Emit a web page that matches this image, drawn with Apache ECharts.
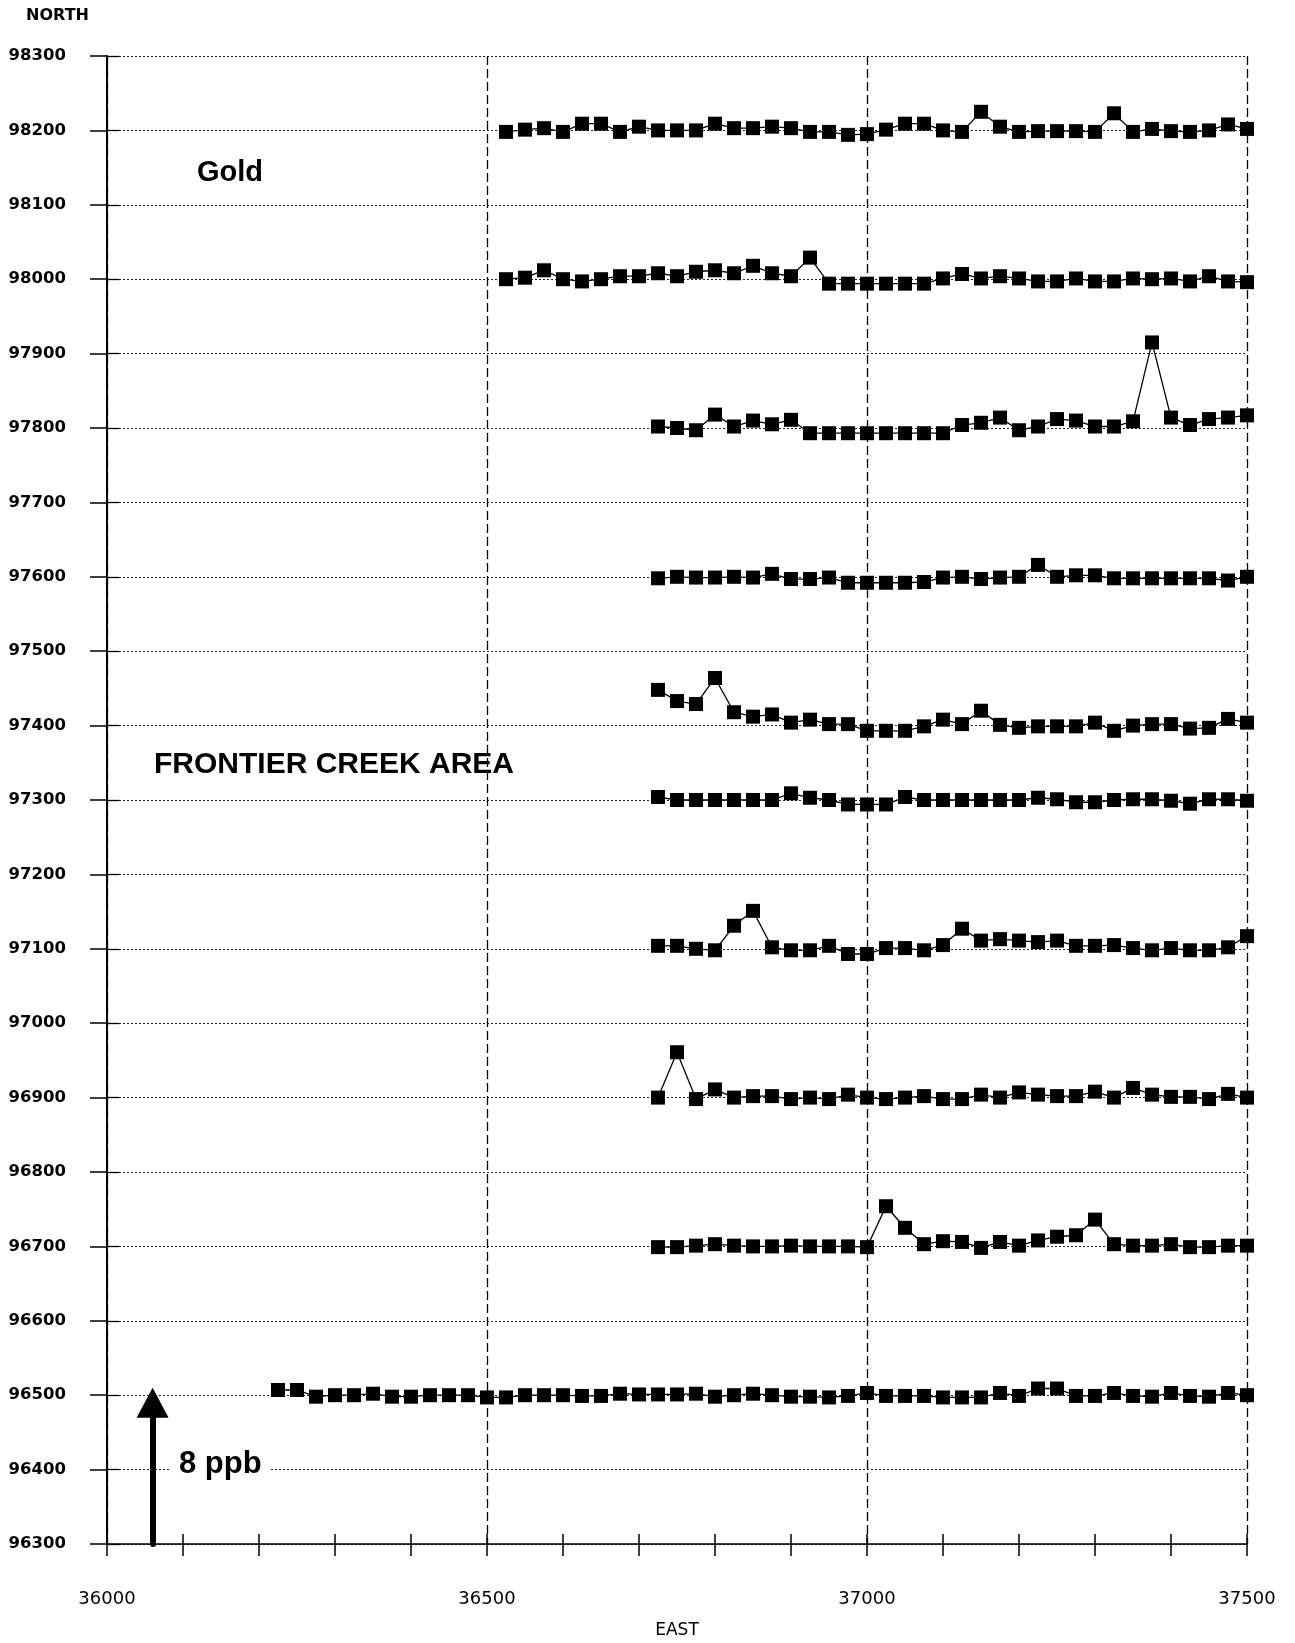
<!DOCTYPE html>
<html>
<head>
<meta charset="utf-8">
<script src="https://cdn.jsdelivr.net/npm/echarts@6/dist/echarts.min.js"></script>
<style>
html,body{margin:0;padding:0;background:#fff;}
#chart{width:1295px;height:1643px;}
</style>
</head>
<body>
<div id="chart"></div>
<script>
// Sample stations (EAST), 25 m spacing
const stations = [36225, 36250, 36275, 36300, 36325, 36350, 36375, 36400, 36425, 36450, 36475, 36500,
  36525, 36550, 36575, 36600, 36625, 36650, 36675, 36700, 36725, 36750, 36775, 36800,
  36825, 36850, 36875, 36900, 36925, 36950, 36975, 37000, 37025, 37050, 37075, 37100,
  37125, 37150, 37175, 37200, 37225, 37250, 37275, 37300, 37325, 37350, 37375, 37400,
  37425, 37450, 37475, 37500];

// Profile lines (NORTH) and the plotted gold offsets (in NORTH units, 8 ppb = 200)
const profileNorths = [98200, 98000, 97800, 97600, 97400, 97300, 97100, 96900, 96700, 96500];

const au98200 = [-2, 1, 3, -2, 9, 9, -2, 5, 0, 0, 0, 9, 3, 3, 5, 3, -2, -2, -6, -5,
  1, 9, 9, 0, -2, 25, 5, -2, -1, -1, -1, -2, 23, -2, 2, -1, -2, 0, 8, 2];
const au98000 = [0, 2, 12, 0, -3, 0, 4, 4, 8, 4, 10, 12, 8, 18, 8, 4, 29, -6, -6, -6,
  -6, -6, -6, 1, 7, 1, 4, 1, -3, -3, 1, -3, -3, 1, 0, 1, -3, 4, -3, -4];
const au97800 = [2, 0, -3, 18, 2, 10, 5, 11, -7, -7, -7, -7, -7, -7, -7, -7,
  4, 7, 14, -3, 2, 12, 10, 2, 2, 9, 115, 14, 4, 12, 14, 17];
const au97600 = [-2, 0, -1, -1, 0, -1, 4, -3, -3, -1, -8, -8, -8, -8, -7, -1,
  0, -3, -1, 0, 16, 0, 2, 2, -2, -2, -2, -2, -2, -2, -5, 0];
const au97400 = [48, 33, 29, 64, 18, 12, 15, 4, 8, 2, 2, -7, -7, -7, -1, 8,
  2, 20, 1, -3, -1, -1, -1, 4, -7, 0, 2, 2, -4, -3, 9, 4];
const au97300 = [4, 0, 0, 0, 0, 0, 0, 9, 3, 0, -6, -6, -6, 4, 0, 0,
  0, 0, 0, 0, 3, 1, -3, -3, 0, 1, 1, -1, -5, 1, 1, -1];
const au97100 = [4, 4, 0, -2, 31, 51, 2, -2, -2, 4, -7, -7, 1, 1, -2, 5,
  27, 11, 13, 11, 9, 11, 4, 4, 5, 1, -2, 1, -2, -2, 2, 17];
const au96900 = [0, 61, -2, 11, 0, 2, 2, -2, 0, -2, 4, 0, -2, 0, 2, -2,
  -2, 4, 0, 7, 4, 2, 2, 8, 0, 13, 4, 1, 1, -2, 5, 0];
const au96700 = [-1, -1, 1, 3, 1, 0, 0, 1, 0, 0, 0, -1, 54, 25, 3, 7,
  6, -2, 6, 1, 8, 13, 15, 36, 3, 1, 1, 3, -1, -1, 1, 1];
const au96500 = [7, 7, -2, 0, 0, 2, -2, -2, 0, 0, 0, -3, -3, 0, 0, 0, -1, -1, 2, 1,
  1, 1, 2, -2, 0, 2, 0, -2, -2, -3, -1, 3, -1, -1, -1, -3, -3, -3, 3, -1,
  9, 9, -1, -1, 3, -1, -2, 3, -1, -2, 3, 0];

const profileValues = [au98200, au98000, au97800, au97600, au97400, au97300, au97100, au96900, au96700, au96500];

// Axis ranges and ticks
const eastMin = 36000, eastMax = 37500, eastLabelStep = 500, eastTickStep = 100;
const northMin = 96300, northMax = 98300, northStep = 100;

// Scale arrow: 8 ppb
const arrowEast = 36060;
const arrowFrom = 96300;
const arrowTo = 96490;

const chart = echarts.init(document.getElementById('chart'), null, {renderer: 'canvas'});

const series = profileNorths.map((north, k) => {
  const vals = profileValues[k];
  const startIdx = stations.length - vals.length;
  return {
    name: 'N' + north,
    type: 'line',
    data: vals.map((v, i) => [stations[startIdx + i], north + v]),
    symbol: 'rect',
    symbolSize: 14,
    showSymbol: true,
    itemStyle: {color: '#000'},
    lineStyle: {color: '#000', width: 1.3},
    silent: true,
    z: 5
  };
});

series.push({
  name: 'scale',
  type: 'line',
  data: [],
  silent: true,
  markLine: {
    silent: true,
    animation: false,
    symbol: ['none', 'triangle'],
    symbolSize: [32, 30],
    label: {show: false},
    lineStyle: {color: '#000', width: 6, type: 'solid', cap: 'round'},
    data: [[{coord: [arrowEast, arrowFrom]}, {coord: [arrowEast, arrowTo]}]]
  },
  z: 6
});

const FONT_W = "'DejaVu Sans', sans-serif";

const option = {
  animation: false,
  backgroundColor: '#fff',
  grid: {left: 107, right: 48, top: 56, bottom: 99, containLabel: false, outerBoundsMode: 'none'},
  xAxis: [
    {
      type: 'value', position: 'bottom',
      min: eastMin, max: eastMax, interval: eastLabelStep,
      name: 'EAST', nameLocation: 'middle', nameGap: 78,
      nameTextStyle: {fontFamily: FONT_W, fontSize: 17, color: '#000'},
      axisLine: {show: true, lineStyle: {color: '#000', width: 1.5}},
      axisTick: {show: false},
      axisLabel: {show: true, margin: 46, fontFamily: FONT_W, fontSize: 18, color: '#000',
        formatter: v => String(v)},
      splitLine: {show: true, lineStyle: {color: '#000', width: 1.3, type: [9, 4]}}
    },
    {
      type: 'value', position: 'bottom',
      min: eastMin, max: eastMax, interval: eastTickStep,
      axisLine: {show: false},
      axisTick: {show: true, inside: false, length: 12, lineStyle: {color: '#000', width: 1.5}},
      axisLabel: {show: false},
      splitLine: {show: false}
    },
    {
      type: 'value', position: 'bottom',
      min: eastMin, max: eastMax, interval: eastTickStep,
      axisLine: {show: false},
      axisTick: {show: true, inside: true, length: 10, lineStyle: {color: '#000', width: 1.5}},
      axisLabel: {show: false},
      splitLine: {show: false}
    }
  ],
  yAxis: [
    {
      type: 'value', position: 'left',
      min: northMin, max: northMax, interval: northStep,
      name: 'NORTH', nameLocation: 'end', nameGap: 32,
      nameTextStyle: {fontFamily: FONT_W, fontWeight: 'bold', fontSize: 16, color: '#000',
        align: 'right', padding: [0, 18, 0, 0]},
      axisLine: {show: true, lineStyle: {color: '#000', width: 2}},
      axisTick: {show: true, inside: false, length: 17, lineStyle: {color: '#000', width: 1.5}},
      axisLabel: {show: true, margin: 41, fontFamily: FONT_W, fontWeight: 'bold', fontSize: 16.5, color: '#000',
        formatter: v => String(v)},
      splitLine: {show: true, lineStyle: {color: '#222', width: 1, type: [2, 2]}}
    },
    {
      type: 'value', position: 'left',
      min: northMin, max: northMax, interval: northStep,
      axisLine: {show: false},
      axisTick: {show: true, inside: true, length: 12, lineStyle: {color: '#000', width: 1.3}},
      axisLabel: {show: false},
      splitLine: {show: false}
    }
  ],
  graphic: [
    {type: 'text', x: 197, y: 173, z: 10,
      style: {text: 'Gold', font: "bold 29px 'Liberation Sans', Arial, sans-serif", fill: '#000', verticalAlign: 'middle'}},
    {type: 'text', x: 154, y: 765, z: 10,
      style: {text: 'FRONTIER CREEK AREA', font: "bold 30px 'Liberation Sans', Arial, sans-serif", fill: '#000', verticalAlign: 'middle'}},
    {type: 'text', x: 171, y: 1464, z: 10,
      style: {text: '8 ppb', font: "bold 31px 'Liberation Sans', Arial, sans-serif", fill: '#000', verticalAlign: 'middle',
        backgroundColor: '#fff', padding: [2, 8, 2, 8]}}
  ],
  series: series
};

chart.setOption(option);
</script>
</body>
</html>
